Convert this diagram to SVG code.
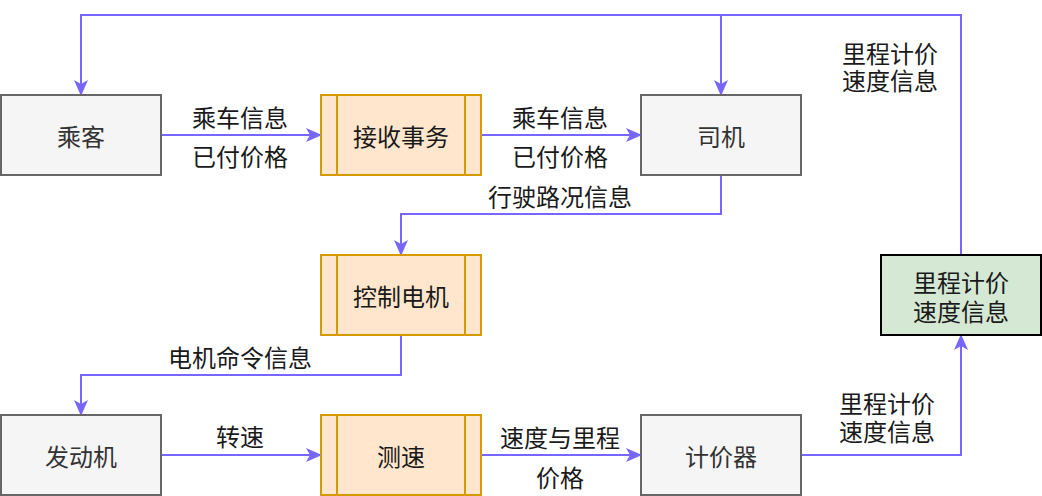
<svg xmlns="http://www.w3.org/2000/svg" width="1042" height="496" viewBox="0 0 1042 496">
<style>
.gray{fill:#f5f5f5;stroke:#666666;stroke-width:2}
.proc{fill:#ffe6cc;stroke:#d79b00;stroke-width:2}
.green{fill:#d5e8d4;stroke:#000000;stroke-width:2}
.t{font-family:"Noto Sans CJK SC","Noto Sans",sans-serif;font-size:24px;text-anchor:middle;dominant-baseline:central}
.nt{fill:#333333}
.lt{fill:#1a1a1a}
.edge{fill:none;stroke:#7766ff;stroke-width:2;marker-end:url(#arr)}
</style>
<defs>
<marker id="arr" viewBox="0 0 16 14" refX="15" refY="7" markerWidth="16" markerHeight="14" markerUnits="userSpaceOnUse" orient="auto">
<path d="M0,0 L16,7 L0,14 L4,7 Z" fill="#7766ff"/>
</marker>
</defs>
<rect width="1042" height="496" fill="#ffffff"/>
<g id="connectors">
<path class="edge" d="M961,255 V15 H81 V95"/>
<path class="edge" d="M961,255 V15 H721 V95"/>
<path class="edge" d="M161,135 H321"/>
<path class="edge" d="M481,135 H641"/>
<path class="edge" d="M721,175 V214 H401 V255"/>
<path class="edge" d="M401,335 V375 H81 V415"/>
<path class="edge" d="M161,455 H321"/>
<path class="edge" d="M481,455 H641"/>
<path class="edge" d="M801,455 H961 V335"/>
<text class="t lt" x="240" y="116">乘车信息</text>
<text class="t lt" x="240" y="155">已付价格</text>
<text class="t lt" x="560" y="116">乘车信息</text>
<text class="t lt" x="560" y="155">已付价格</text>
<text class="t lt" x="560" y="195">行驶路况信息</text>
<text class="t lt" x="240" y="356">电机命令信息</text>
<text class="t lt" x="240" y="435">转速</text>
<text class="t lt" x="560" y="436">速度与里程</text>
<text class="t lt" x="560" y="476">价格</text>
<text class="t lt"><tspan x="887" y="402">里程计价</tspan><tspan x="887" y="430">速度信息</tspan></text>
<text class="t lt"><tspan x="890" y="52">里程计价</tspan><tspan x="890" y="79">速度信息</tspan></text>
</g>
<g id="passenger">
<rect class="gray" x="1" y="95" width="160" height="80"/>
<text class="t nt" x="81" y="135">乘客</text>
</g>
<g id="receive">
<rect class="proc" x="321" y="95" width="160" height="80"/>
<path d="M337,95 V175 M465,95 V175" stroke="#d79b00" stroke-width="2"/>
<text class="t lt" x="401" y="135">接收事务</text>
</g>
<g id="driver">
<rect class="gray" x="641" y="95" width="160" height="80"/>
<text class="t nt" x="721" y="135">司机</text>
</g>
<g id="control">
<rect class="proc" x="321" y="255" width="160" height="80"/>
<path d="M337,255 V335 M465,255 V335" stroke="#d79b00" stroke-width="2"/>
<text class="t lt" x="401" y="295">控制电机</text>
</g>
<g id="engine">
<rect class="gray" x="1" y="415" width="160" height="80"/>
<text class="t nt" x="81" y="455">发动机</text>
</g>
<g id="speed">
<rect class="proc" x="321" y="415" width="160" height="80"/>
<path d="M337,415 V495 M465,415 V495" stroke="#d79b00" stroke-width="2"/>
<text class="t lt" x="401" y="455">测速</text>
</g>
<g id="meter">
<rect class="gray" x="641" y="415" width="160" height="80"/>
<text class="t nt" x="721" y="455">计价器</text>
</g>
<g id="info">
<rect class="green" x="881" y="255" width="160" height="80"/>
<text class="t lt"><tspan x="961" y="281">里程计价</tspan><tspan x="961" y="310">速度信息</tspan></text>
</g>
</svg>
